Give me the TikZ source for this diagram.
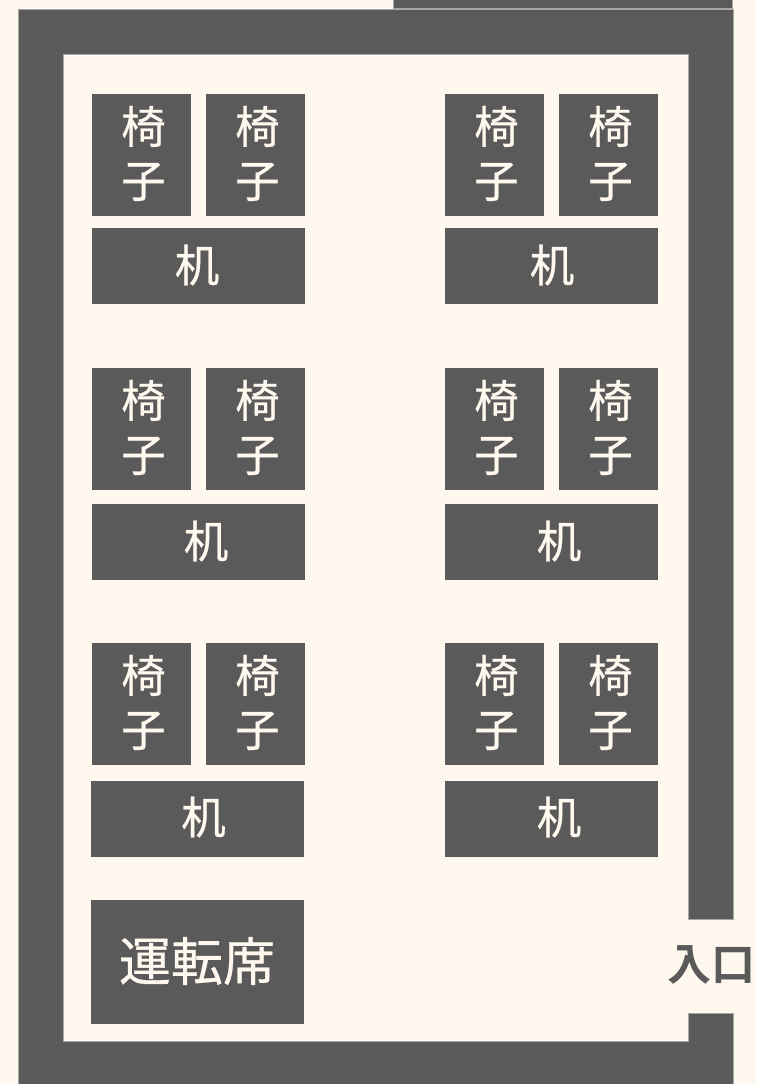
\documentclass[tikz,border=0pt]{standalone}
\usepackage{fontspec}
\newfontfamily\cjk[FakeBold=0.6]{Noto Sans CJK JP}
\newfontfamily\cjkb{Noto Sans CJK JP Bold}
\definecolor{bgc}{HTML}{FFF8EF}
\definecolor{dark}{HTML}{5A5A5A}
\definecolor{edgec}{HTML}{A8A6A2}
\tikzset{
  x=1pt,y=-1pt,
  wall/.style={fill=dark,draw=edgec,line width=.6pt},
  piece/.style={fill=dark,draw=none},
  word/.style={text=bgc,font=\cjk\fontsize{44.5}{54}\selectfont,inner sep=0pt,align=center,anchor=center},
}
\newcommand{\chairpair}[3]{% x left, y top, name
  \fill[piece] (#1,#2) rectangle ++(99,122);
  \fill[piece] (#1+114,#2) rectangle ++(99,122);
  \node[word] (#3a) at (#1+51.5,#2+59.5) {椅\\子};
  \node[word] (#3b) at (#1+165.5,#2+59.5) {椅\\子};
}
\newcommand{\deskbox}[5]{% x left, y top, text x, text y, name
  \fill[piece] (#1,#2) rectangle ++(213,76);
  \node[word] (#5) at (#3,#4) {机};
}
\begin{document}
\begin{tikzpicture}
\useasboundingbox (0,0) rectangle (756,1084);
\fill[bgc] (0,0) rectangle (756,1084);
% top strip
\draw[wall] (393.5,-2) rectangle (732.5,8.5);
% walls
\draw[wall,even odd rule] (18,1090) -- (18,9.5) -- (733.5,9.5) -- (733.5,919) -- (688.5,919) -- (688.5,54.5) -- (63,54.5) -- (63,1041.5) -- (688.5,1041.5) -- (688.5,1013) -- (733.5,1013) -- (733.5,1090) -- cycle;
\node[text=dark,font=\cjkb\fontsize{44}{44}\selectfont,inner sep=0pt,anchor=center] (entry) at (711,965) {入口};
\chairpair{92}{94}{ca}
\chairpair{445}{94}{cb}
\chairpair{92}{368}{cc}
\chairpair{445}{368}{cd}
\chairpair{92}{643}{ce}
\chairpair{445}{643}{cf}
\deskbox{92}{228}{197}{265}{da}
\deskbox{445}{228}{552}{265}{db}
\deskbox{92}{504}{206}{541}{dc}
\deskbox{445}{504}{559}{541}{dd}
\deskbox{91}{781}{203.5}{817}{de}
\deskbox{445}{781}{559}{817}{df}
\fill[piece] (91,900) rectangle (304,1024);
\node[word,font=\cjk\fontsize{52}{52}\selectfont] (driver) at (197,961) {運転席};
\end{tikzpicture}
\end{document}
